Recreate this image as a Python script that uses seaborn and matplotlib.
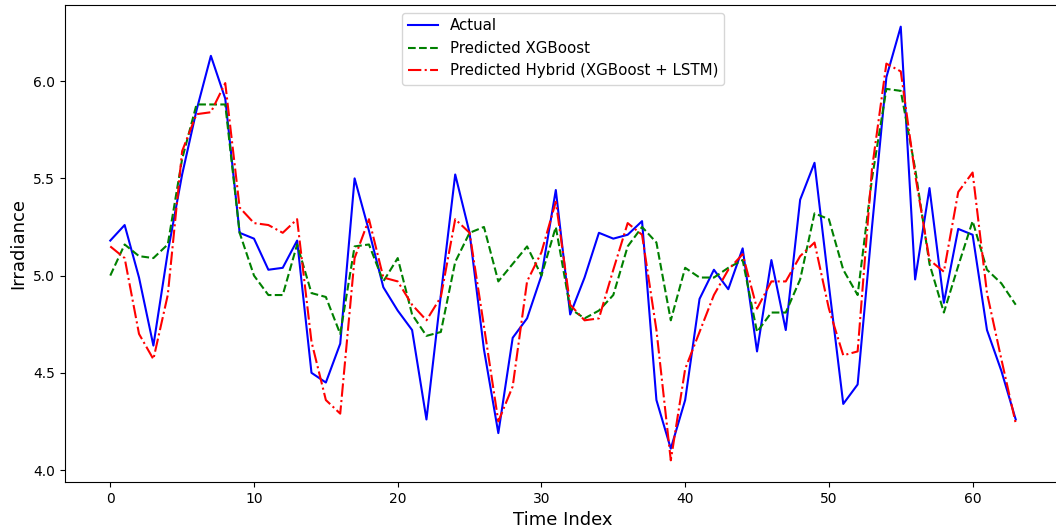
import numpy as np
import pandas as pd
import matplotlib
matplotlib.use("Agg")
import matplotlib.pyplot as plt
import seaborn as sns

# valores
time_index = list(range(64))
actual = [5.18, 5.26, 4.99, 4.64, 5.12, 5.52, 5.85, 6.13, 5.91, 5.22,
          5.19, 5.03, 5.04, 5.18, 4.50, 4.45, 4.65, 5.50, 5.23, 4.94,
          4.82, 4.72, 4.26, 4.90, 5.52, 5.22, 4.62, 4.19, 4.68, 4.78,
          5.00, 5.44, 4.80, 4.99, 5.22, 5.19, 5.21, 5.28, 4.36, 4.11,
          4.36, 4.88, 5.03, 4.93, 5.14, 4.61, 5.08, 4.72, 5.39, 5.58,
          4.95, 4.34, 4.44, 5.25, 6.02, 6.28, 4.98, 5.45, 4.86, 5.24,
          5.21, 4.72, 4.51, 4.26]
pred_xgb = [5.00, 5.16, 5.10, 5.09, 5.16, 5.60, 5.88, 5.88, 5.88, 5.22,
            5.00, 4.90, 4.90, 5.16, 4.91, 4.89, 4.70, 5.15, 5.16, 4.97,
            5.09, 4.80, 4.69, 4.71, 5.07, 5.22, 5.25, 4.97, 5.06, 5.15,
            5.00, 5.25, 4.83, 4.78, 4.82, 4.90, 5.15, 5.25, 5.17, 4.77,
            5.04, 4.99, 4.99, 5.04, 5.08, 4.71, 4.81, 4.81, 4.98, 5.32,
            5.29, 5.03, 4.90, 5.50, 5.96, 5.95, 5.55, 5.06, 4.81, 5.05,
            5.28, 5.03, 4.96, 4.85]
pred_hybrid = [5.15, 5.09, 4.70, 4.57, 4.90, 5.64, 5.83, 5.84, 5.99, 5.35,
               5.27, 5.26, 5.22, 5.29, 4.66, 4.36, 4.29, 5.09, 5.29, 4.99,
               4.97, 4.85, 4.77, 4.89, 5.29, 5.22, 4.74, 4.25, 4.43, 4.97,
               5.12, 5.38, 4.85, 4.77, 4.78, 5.03, 5.27, 5.21, 4.72, 4.05,
               4.52, 4.71, 4.90, 5.03, 5.11, 4.83, 4.97, 4.97, 5.10, 5.17,
               4.83, 4.59, 4.61, 5.55, 6.09, 6.05, 5.52, 5.08, 5.02, 5.43,
               5.53, 4.91, 4.57, 4.24]

df = pd.DataFrame({"t": time_index, "actual": actual,
                   "xgb": pred_xgb, "hybrid": pred_hybrid})

fig = plt.figure(figsize=(10.56, 5.27), dpi=100)
# el original esta recortado a la derecha: el eje sale un poco del cuadro
ax = fig.add_axes([65 / 1056, 45 / 527, (1061 - 65) / 1056, (482 - 5) / 527])

sns.lineplot(data=df, x="t", y="actual", color="blue", linestyle="-",
             linewidth=1.5, label="Actual", ax=ax)
sns.lineplot(data=df, x="t", y="xgb", color="green", linestyle="--",
             linewidth=1.5, label="Predicted XGBoost", ax=ax)
sns.lineplot(data=df, x="t", y="hybrid", color="red", linestyle="-.",
             linewidth=1.5, label="Predicted Hybrid (XGBoost + LSTM)", ax=ax)

ax.set_xlabel("Time Index", fontsize=13)
ax.set_ylabel("Irradiance", fontsize=13)
ax.set_xticks([0, 10, 20, 30, 40, 50, 60])
ax.set_yticks([4.0, 4.5, 5.0, 5.5, 6.0])
ax.tick_params(labelsize=10)
ax.legend(loc="upper center", fontsize=10.8)

plt.savefig("out.png", dpi=100)
